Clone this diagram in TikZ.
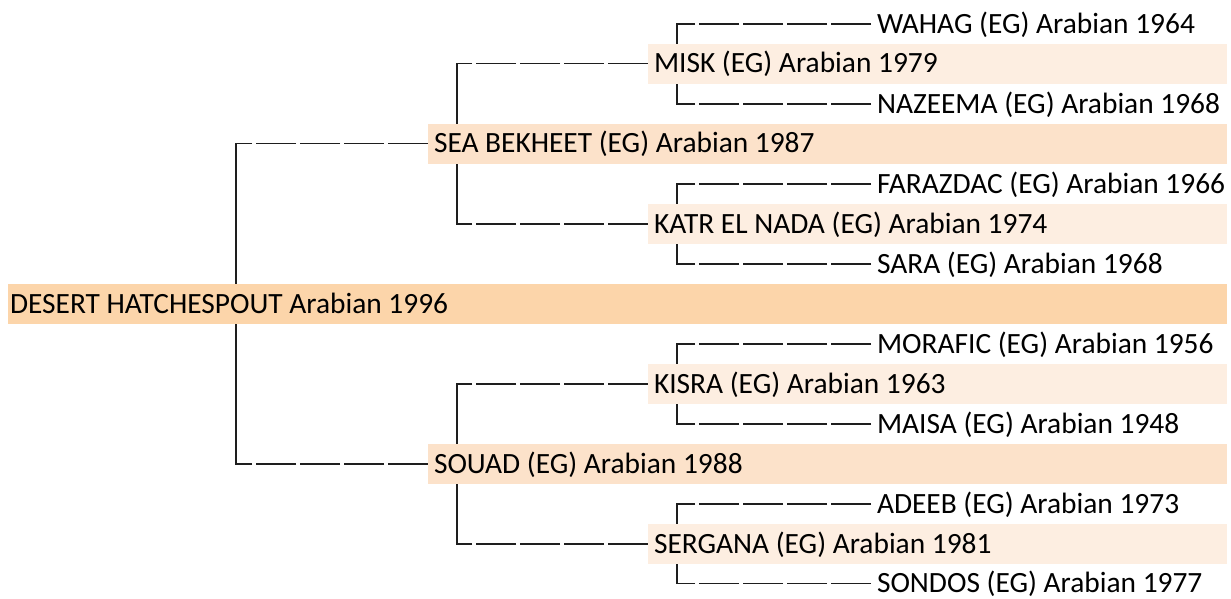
\documentclass[tikz,border=0pt]{standalone}
\usepackage{fontspec}
\setmainfont{Carlito}
\usetikzlibrary{backgrounds}
\definecolor{bandA}{RGB}{252,213,170}
\definecolor{bandB}{RGB}{252,226,202}
\definecolor{bandC}{RGB}{253,238,225}
\definecolor{linec}{RGB}{30,30,30}
\newcommand{\pfont}{\fontsize{29.4}{32}\selectfont}
\tikzset{
  person/.style={anchor=west, font=\pfont, text height=18pt, text depth=0pt,
    inner ysep=0pt, minimum height=40pt, outer sep=0pt},
  gzero/.style={person, inner xsep=2pt},
  gone/.style={person, inner xsep=6pt},
  gtwo/.style={person, inner xsep=6pt},
  gthree/.style={person, inner xsep=6pt},
  hlink/.style={draw=linec, line width=1.6pt, dash pattern=on 40pt off 4pt},
  vlink/.style={draw=linec, line width=1.6pt, line cap=rect}
}
\begin{document}
\begin{tikzpicture}[x=1pt,y=-1pt]
\useasboundingbox (0,0) rectangle (1231,598);
% generation 0
\node[gzero] (desert) at (8,304) {DESERT HATCHESPOUT Arabian 1996};
% generation 1
\node[gone] (sea) at (428,143.5) {SEA BEKHEET (EG) Arabian 1987};
\node[gone] (souad) at (428,464) {SOUAD (EG) Arabian 1988};
% generation 2
\node[gtwo] (misk) at (648,63.5) {MISK (EG) Arabian 1979};
\node[gtwo] (katr) at (648,224) {KATR EL NADA (EG) Arabian 1974};
\node[gtwo] (kisra) at (648,384) {KISRA (EG) Arabian 1963};
\node[gtwo] (sergana) at (648,544) {SERGANA (EG) Arabian 1981};
% generation 3
\node[gthree] (wahag) at (871,24) {WAHAG (EG) Arabian 1964};
\node[gthree] (nazeema) at (871,104) {NAZEEMA (EG) Arabian 1968};
\node[gthree] (farazdac) at (871,184) {FARAZDAC (EG) Arabian 1966};
\node[gthree] (sara) at (871,264) {SARA (EG) Arabian 1968};
\node[gthree] (morafic) at (871,344) {MORAFIC (EG) Arabian 1956};
\node[gthree] (maisa) at (871,424) {MAISA (EG) Arabian 1948};
\node[gthree] (adeeb) at (871,504) {ADEEB (EG) Arabian 1973};
\node[gthree] (sondos) at (871,583.5) {SONDOS (EG) Arabian 1977};
% columns
\coordinate (c0) at (236,0);
\coordinate (c1) at (457,0);
\coordinate (c2) at (677,0);
\coordinate (edge) at (1227,0);
\begin{scope}[on background layer]
  % desert -> parents
  \draw[vlink] (sea.west -| c0) -- (souad.west -| c0);
  \draw[hlink] (sea.west) -- (sea.west -| c0);
  \draw[hlink] (souad.west) -- (souad.west -| c0);
  % sea bekheet -> parents
  \draw[vlink] (misk.west -| c1) -- (katr.west -| c1);
  \draw[hlink] (misk.west) -- (misk.west -| c1);
  \draw[hlink] (katr.west) -- (katr.west -| c1);
  % souad -> parents
  \draw[vlink] (kisra.west -| c1) -- (sergana.west -| c1);
  \draw[hlink] (kisra.west) -- (kisra.west -| c1);
  \draw[hlink] (sergana.west) -- (sergana.west -| c1);
  % misk
  \draw[vlink] (wahag.west -| c2) -- (nazeema.west -| c2);
  \draw[hlink] (wahag.west) -- (wahag.west -| c2);
  \draw[hlink] (nazeema.west) -- (nazeema.west -| c2);
  % katr el nada
  \draw[vlink] (farazdac.west -| c2) -- (sara.west -| c2);
  \draw[hlink] (farazdac.west) -- (farazdac.west -| c2);
  \draw[hlink] (sara.west) -- (sara.west -| c2);
  % kisra
  \draw[vlink] (morafic.west -| c2) -- (maisa.west -| c2);
  \draw[hlink] (morafic.west) -- (morafic.west -| c2);
  \draw[hlink] (maisa.west) -- (maisa.west -| c2);
  % sergana
  \draw[vlink] (adeeb.west -| c2) -- (sondos.west -| c2);
  \draw[hlink] (adeeb.west) -- (adeeb.west -| c2);
  \draw[hlink] (sondos.west) -- (sondos.west -| c2);
  % row bands (drawn over the connectors, as in the reference)
  \fill[bandA] (desert.south west) rectangle (desert.north west -| edge);
  \foreach \n in {sea,souad}
    \fill[bandB] (\n.south west) rectangle (\n.north west -| edge);
  \foreach \n in {misk,katr,kisra,sergana}
    \fill[bandC] (\n.south west) rectangle (\n.north west -| edge);
\end{scope}
\end{tikzpicture}
\end{document}
